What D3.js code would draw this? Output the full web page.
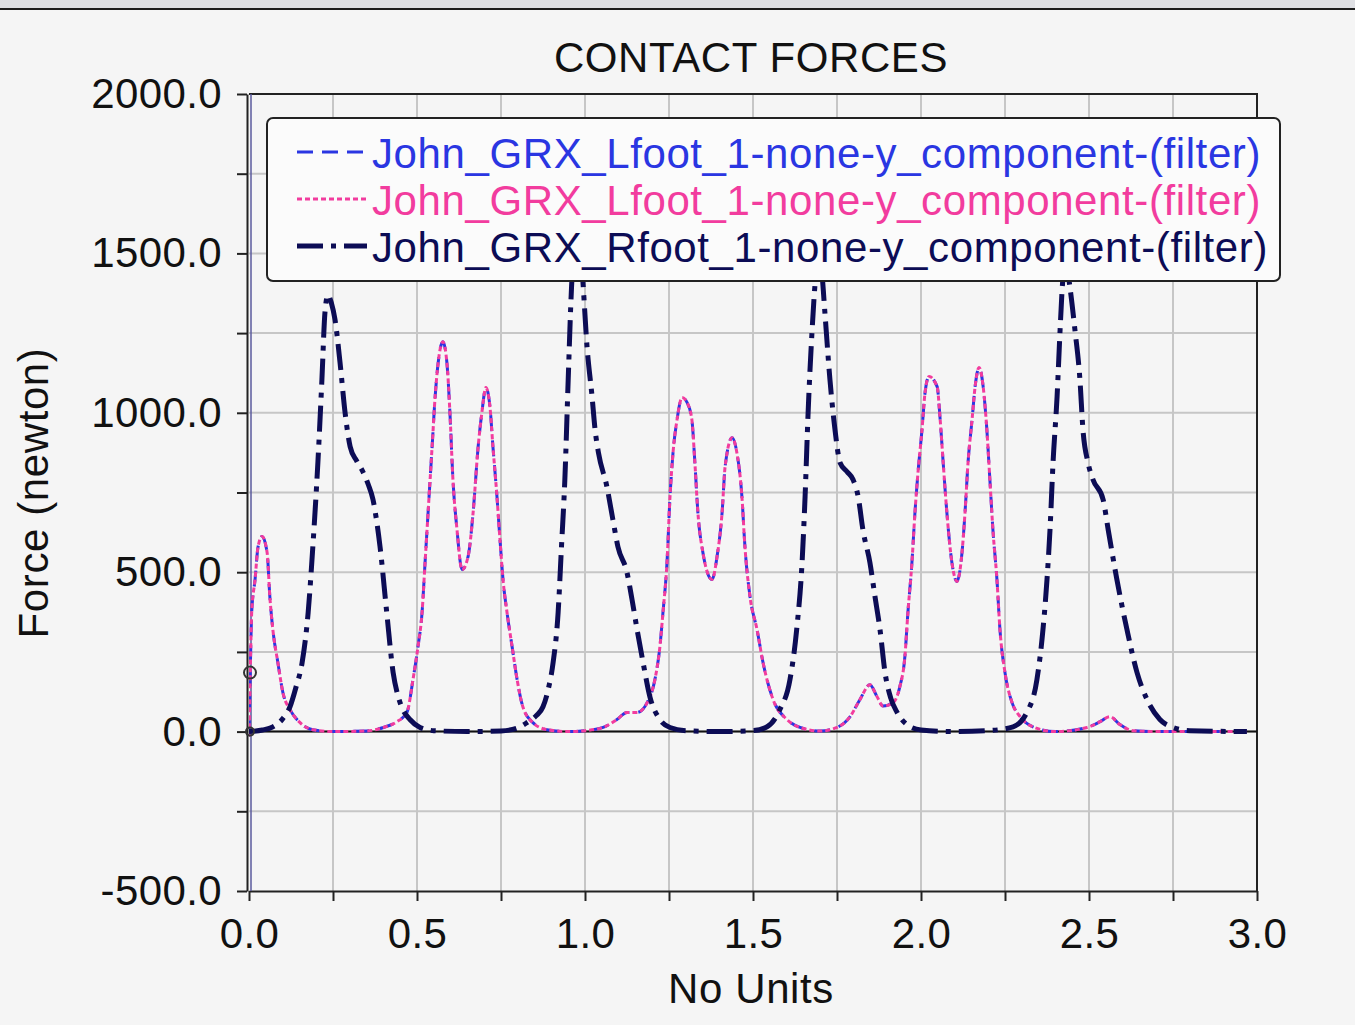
<!DOCTYPE html>
<html>
<head>
<meta charset="utf-8">
<script src="https://cdn.jsdelivr.net/npm/d3@7"></script>
<style>
  body { margin: 0; background: #f5f5f5; }
  svg { display: block; font-family: "Liberation Sans", Arial, sans-serif; }
</style>
</head>
<body>
<svg id="chart" width="1355" height="1025"></svg>
<script>
// series data
const lfootTime = [0.0, 0.004, 0.008, 0.018, 0.027, 0.039, 0.054, 0.062, 0.071, 0.086, 0.101, 0.122, 0.152, 0.19, 0.25, 0.35,
  0.4, 0.44, 0.47, 0.488, 0.503, 0.515, 0.524, 0.533, 0.545, 0.554, 0.563, 0.577, 0.589, 0.598, 0.607, 0.619, 0.634, 0.652,
  0.667, 0.682, 0.693, 0.705, 0.717, 0.726, 0.738, 0.747, 0.756, 0.768, 0.783, 0.798, 0.815, 0.845, 0.887, 0.95, 1.0,
  1.054, 1.095, 1.125, 1.155, 1.185, 1.208, 1.223, 1.232, 1.244, 1.253, 1.262, 1.274, 1.289, 1.304, 1.318, 1.327, 1.336,
  1.351, 1.378, 1.393, 1.408, 1.417, 1.438, 1.452, 1.467, 1.476, 1.491, 1.512, 1.53, 1.56, 1.601, 1.64, 1.70, 1.75, 1.789,
  1.818, 1.848, 1.869, 1.887, 1.917, 1.937, 1.952, 1.961, 1.973, 1.982, 1.991, 2.003, 2.012, 2.024, 2.048, 2.057, 2.066,
  2.077, 2.092, 2.107, 2.122, 2.131, 2.14, 2.152, 2.161, 2.173, 2.185, 2.196, 2.205, 2.214, 2.226, 2.235, 2.25, 2.271,
  2.295, 2.333, 2.4, 2.494, 2.533, 2.562, 2.592, 2.63, 2.7, 2.97];
const lfootForce = [-15, 200, 373, 477, 580, 612, 561, 424, 320, 216, 122, 69, 28, 6, 0, 2,
  13, 31, 60, 163, 267, 373, 530, 687, 894, 1051, 1157, 1223, 1157, 1000, 790, 634, 508, 549,
  687, 894, 1000, 1079, 1020, 894, 737, 602, 477, 373, 267, 163, 78, 28, 6, 0, 3,
  13, 38, 60, 60, 91, 163, 267, 373, 530, 737, 875, 979, 1048, 1032, 979, 844, 687,
  561, 477, 549, 687, 831, 922, 875, 737, 580, 424, 320, 216, 100, 38, 13, 2, 13, 47,
  100, 147, 110, 80, 91, 141, 235, 373, 530, 687, 812, 947, 1063, 1114, 1082, 979, 844,
  687, 530, 471, 561, 687, 844, 979, 1082, 1142, 1082, 947, 790, 634, 477, 320, 185, 91,
  47, 15, 0, 13, 31, 47, 22, 3, 0, 0];

const rfootTime = [0.0, 0.04, 0.071, 0.10, 0.122, 0.14, 0.158, 0.176, 0.19, 0.205, 0.217, 0.226, 0.235, 0.245, 0.256, 0.271,
  0.286, 0.301, 0.32, 0.339, 0.355, 0.369, 0.38, 0.39, 0.41, 0.429, 0.444, 0.458, 0.479, 0.509, 0.55, 0.65, 0.75, 0.80,
  0.827, 0.855, 0.875, 0.89, 0.905, 0.92, 0.93, 0.94, 0.95, 0.96, 0.975, 0.985, 0.994, 1.006, 1.021, 1.03, 1.04, 1.065,
  1.083, 1.098, 1.125, 1.14, 1.155, 1.173, 1.193, 1.223, 1.253, 1.30, 1.40, 1.50, 1.542, 1.58, 1.61, 1.63, 1.646, 1.655,
  1.664, 1.676, 1.685, 1.697, 1.705, 1.714, 1.729, 1.744, 1.759, 1.78, 1.798, 1.813, 1.827, 1.848, 1.863, 1.878, 1.893,
  1.91, 1.929, 1.958, 2.0, 2.1, 2.2, 2.274, 2.315, 2.345, 2.363, 2.375, 2.384, 2.393, 2.405, 2.414, 2.42, 2.43, 2.443,
  2.458, 2.473, 2.482, 2.497, 2.512, 2.542, 2.557, 2.583, 2.613, 2.643, 2.673, 2.711, 2.75, 2.8, 2.97];
const rfootForce = [0, 5, 15, 40, 78, 140, 216, 373, 580, 844, 1104, 1314, 1370, 1345, 1292, 1157,
  1000, 894, 850, 815, 775, 728, 660, 580, 373, 185, 110, 69, 38, 13, 3, 0, 2, 12,
  28, 50, 78, 130, 216, 373, 580, 790, 1104, 1396, 1560, 1540, 1408, 1208, 1051, 947, 875, 769,
  665, 580, 499, 414, 320, 216, 110, 38, 13, 3, 0, 3, 15, 69, 163, 320, 530, 737,
  1000, 1261, 1408, 1500, 1440, 1314, 1104, 947, 844, 815, 790, 737, 634, 530, 424, 320, 185,
  105, 60, 22, 5, 0, 3, 15, 60, 163, 320, 477, 634, 844, 1051, 1261, 1386, 1480, 1396,
  1261, 1104, 947, 844, 790, 728, 634, 477, 320, 185, 100, 38, 13, 3, 0];

const seriesNames = [
  'John_GRX_Lfoot_1-none-y_component-(filter)',
  'John_GRX_Lfoot_1-none-y_component-(filter)',
  'John_GRX_Rfoot_1-none-y_component-(filter)'
];
const seriesColors = ['#2a36e2', '#f23c9e', '#0c0c55'];
const seriesDashes = ['16,9', '5,3', '26,8,5,8'];
const seriesWidths = [3, 3, 5];

const xTicks = d3.range(0, 3.001, 0.25);
const yTicks = d3.range(-500, 2000.1, 250);

const svg = d3.select('#chart');

// window chrome strip at the top
svg.append('rect').attr('x', 0).attr('y', 0).attr('width', 1355).attr('height', 8).attr('fill', '#dfe0e4');
svg.append('rect').attr('x', 0).attr('y', 8).attr('width', 1355).attr('height', 2).attr('fill', '#1e1e1e');

const x = d3.scaleLinear().domain([0, 3]).range([249, 1257]);
const y = d3.scaleLinear().domain([-500, 2000]).range([891, 94]);

// grid
svg.append('g').selectAll('line').data(xTicks.slice(1, -1)).join('line')
  .attr('x1', d => x(d)).attr('x2', d => x(d)).attr('y1', y(2000)).attr('y2', y(-500))
  .attr('stroke', '#c6c6c6').attr('stroke-width', 2);
svg.append('g').selectAll('line').data(yTicks.slice(1, -1)).join('line')
  .attr('x1', x(0)).attr('x2', x(3)).attr('y1', d => y(d)).attr('y2', d => y(d))
  .attr('stroke', '#c6c6c6').attr('stroke-width', 2);

// frame top / right
svg.append('path')
  .attr('d', `M${x(0)},${y(2000)}H${x(3)}V${y(-500)}`)
  .attr('fill', 'none').attr('stroke', '#222').attr('stroke-width', 2);

// zero line
svg.append('line').attr('x1', x(0)).attr('x2', x(3)).attr('y1', y(0)).attr('y2', y(0))
  .attr('stroke', '#111').attr('stroke-width', 2);

// axes
const yAxis = d3.axisLeft(y).tickValues(yTicks).tickSize(10).tickSizeOuter(0).tickPadding(15)
  .tickFormat(d => d % 500 === 0 ? d.toFixed(1) : '');
const gy = svg.append('g').attr('transform', `translate(${x(0) - 2},0)`).call(yAxis);

const xAxis = d3.axisBottom(x).tickValues(xTicks).tickSize(10).tickSizeOuter(0).tickPadding(17)
  .tickFormat(d => Math.abs(d * 2 - Math.round(d * 2)) < 1e-9 ? d.toFixed(1) : '');
const gx = svg.append('g').attr('transform', `translate(0,${y(-500)})`).call(xAxis);

[gx, gy].forEach(g => {
  g.selectAll('.domain').attr('stroke', '#222').attr('stroke-width', 2);
  g.selectAll('.tick line').attr('stroke', '#222').attr('stroke-width', 2);
  g.selectAll('.tick text').attr('font-size', 42).attr('fill', '#111').attr('letter-spacing', 0.4)
    .attr('font-family', '"Liberation Sans", Arial, sans-serif');
});
// second (bluish) line along the y axis
svg.append('line').attr('x1', x(0) + 2).attr('x2', x(0) + 2).attr('y1', y(2000)).attr('y2', y(-500))
  .attr('stroke', '#5a5a9c').attr('stroke-width', 1.5);

// curves
const lfoot = lfootTime.map((t, i) => [t, lfootForce[i]]);
const rfoot = rfootTime.map((t, i) => [t, rfootForce[i]]);
const seriesData = [lfoot, lfoot, rfoot];

const line = d3.line().x(d => x(d[0])).y(d => y(d[1])).curve(d3.curveMonotoneX);

svg.append('clipPath').attr('id', 'plot-clip')
  .append('rect').attr('x', x(0)).attr('y', y(2000)).attr('width', x(3) - x(0)).attr('height', y(-500) - y(2000));

const curves = svg.append('g').attr('clip-path', 'url(#plot-clip)');
seriesData.forEach((data, i) => {
  curves.append('path')
    .attr('d', line(data))
    .attr('fill', 'none')
    .attr('stroke', seriesColors[i])
    .attr('stroke-width', seriesWidths[i])
    .attr('stroke-dasharray', seriesDashes[i]);
});

// little markers on the axis
[185, 0].forEach(v => {
  svg.append('circle').attr('cx', x(0) + 1).attr('cy', y(v)).attr('r', v ? 6 : 4)
    .attr('fill', 'none').attr('stroke', '#333').attr('stroke-width', 2);
});

// legend
const legend = svg.append('g');
legend.append('rect')
  .attr('x', 267).attr('y', 118).attr('width', 1013).attr('height', 163)
  .attr('rx', 6).attr('fill', '#fbfbfb').attr('stroke', '#222').attr('stroke-width', 2);

const legendBase = [168, 215, 262];
seriesNames.forEach((name, i) => {
  legend.append('line')
    .attr('x1', 297).attr('x2', 367)
    .attr('y1', legendBase[i] - 16).attr('y2', legendBase[i] - 16)
    .attr('stroke', seriesColors[i])
    .attr('stroke-width', seriesWidths[i])
    .attr('stroke-dasharray', seriesDashes[i]);
  legend.append('text')
    .attr('x', 372).attr('y', legendBase[i])
    .attr('font-size', 42).attr('letter-spacing', 0.6).attr('fill', seriesColors[i])
    .text(name);
});

// titles
svg.append('text').attr('x', 751).attr('y', 72).attr('text-anchor', 'middle')
  .attr('font-size', 42).attr('letter-spacing', 0.6).attr('fill', '#111').text('CONTACT FORCES');
svg.append('text').attr('x', 751).attr('y', 1003).attr('text-anchor', 'middle')
  .attr('font-size', 42).attr('letter-spacing', 0.6).attr('fill', '#111').text('No Units');
svg.append('text').attr('transform', 'translate(48,493) rotate(-90)').attr('text-anchor', 'middle')
  .attr('font-size', 42).attr('letter-spacing', 0.6).attr('fill', '#111').text('Force (newton)');
</script>
</body>
</html>
